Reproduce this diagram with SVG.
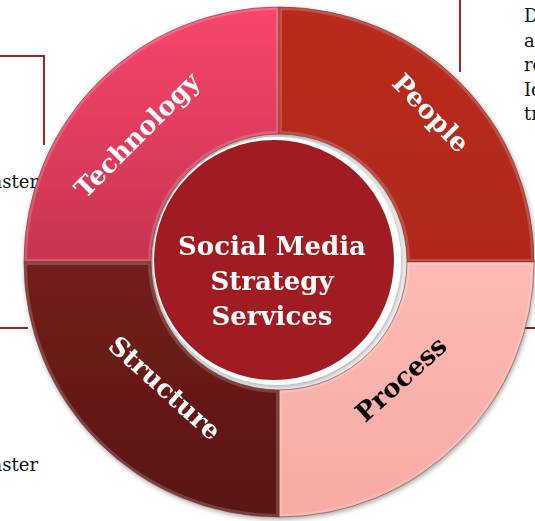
<svg xmlns="http://www.w3.org/2000/svg" width="535" height="521" viewBox="0 0 535 521">
<style>
.lbl{font-family:"DejaVu Serif","Liberation Serif",serif;font-weight:bold;font-size:26px;text-anchor:middle;dominant-baseline:central}
.ctr{font-family:"DejaVu Serif","Liberation Serif",serif;font-weight:bold;font-size:26px;fill:#ffffff;text-anchor:middle}
.side{font-family:"DejaVu Serif","Liberation Serif",serif;font-size:18px;fill:#111111}
.rule{stroke:#a51f24;stroke-width:2;fill:none}
.seg{stroke:#4a1010;stroke-width:1;stroke-opacity:0.5}
.bev{fill:none;stroke:#ffffff;stroke-opacity:0.18;stroke-width:6}
</style>
<defs>
<linearGradient id="gTech" x1="0" y1="7" x2="0" y2="262" gradientUnits="userSpaceOnUse">
<stop offset="0" stop-color="#f8466c"/><stop offset="1" stop-color="#c7344f"/>
</linearGradient>
<linearGradient id="gPeople" x1="0" y1="7" x2="0" y2="262" gradientUnits="userSpaceOnUse">
<stop offset="0" stop-color="#b92c1f"/><stop offset="1" stop-color="#b0281c"/>
</linearGradient>
<linearGradient id="gStruct" x1="0" y1="262" x2="0" y2="517" gradientUnits="userSpaceOnUse">
<stop offset="0" stop-color="#741e1b"/><stop offset="1" stop-color="#5a1414"/>
</linearGradient>
<linearGradient id="gProc" x1="0" y1="262" x2="0" y2="517" gradientUnits="userSpaceOnUse">
<stop offset="0" stop-color="#fdbab4"/><stop offset="1" stop-color="#f8aaa4"/>
</linearGradient>
<filter id="sh" x="-10%" y="-10%" width="120%" height="120%">
<feGaussianBlur in="SourceAlpha" stdDeviation="2.5"/>
<feOffset dx="1" dy="2" result="b"/>
<feFlood flood-color="#000000" flood-opacity="0.35"/>
<feComposite in2="b" operator="in"/>
<feMerge><feMergeNode/><feMergeNode in="SourceGraphic"/></feMerge>
</filter>
<clipPath id="cT"><path d="M24,262 A255,255 0 0 1 279,7 L279,134 A128,128 0 0 0 151,262 Z"/></clipPath>
<clipPath id="cP"><path d="M279,7 A255,255 0 0 1 534,262 L407,262 A128,128 0 0 0 279,134 Z"/></clipPath>
<clipPath id="cR"><path d="M534,262 A255,255 0 0 1 279,517 L279,390 A128,128 0 0 0 407,262 Z"/></clipPath>
<clipPath id="cS"><path d="M279,517 A255,255 0 0 1 24,262 L151,262 A128,128 0 0 0 279,390 Z"/></clipPath>
</defs>
<rect width="535" height="521" fill="#ffffff"/>
<g id="side-notes">
<path class="rule" d="M0,56 H44 V145"/>
<path class="rule" d="M0,328 H28"/>
<path class="rule" d="M460,0 V72"/>
<path class="rule" d="M523,328 H535"/>
<text class="side" x="38" y="188" text-anchor="end">aster</text>
<text class="side" x="38" y="471" text-anchor="end">aster</text>
<text class="side" x="524" y="22">D</text>
<text class="side" x="524" y="47">a</text>
<text class="side" x="524" y="71">re</text>
<text class="side" x="524" y="96">Ic</text>
<text class="side" x="524" y="120">tr</text>
</g>
<g id="ring" filter="url(#sh)">
<g id="technology">
<path class="seg" fill="url(#gTech)" d="M24,262 A255,255 0 0 1 279,7 L279,134 A128,128 0 0 0 151,262 Z"/>
<path class="bev" clip-path="url(#cT)" d="M24,262 A255,255 0 0 1 279,7 L279,134 A128,128 0 0 0 151,262 Z"/>
<text class="lbl" fill="#ffffff" transform="translate(137,135) rotate(-45)">Technology</text>
</g>
<g id="people">
<path class="seg" fill="url(#gPeople)" d="M279,7 A255,255 0 0 1 534,262 L407,262 A128,128 0 0 0 279,134 Z"/>
<path class="bev" clip-path="url(#cP)" d="M279,7 A255,255 0 0 1 534,262 L407,262 A128,128 0 0 0 279,134 Z"/>
<text class="lbl" fill="#ffffff" transform="translate(431,113) rotate(46)">People</text>
</g>
<g id="process">
<path class="seg" fill="url(#gProc)" d="M534,262 A255,255 0 0 1 279,517 L279,390 A128,128 0 0 0 407,262 Z"/>
<path class="bev" clip-path="url(#cR)" stroke-opacity="0.5" d="M534,262 A255,255 0 0 1 279,517 L279,390 A128,128 0 0 0 407,262 Z"/>
<text class="lbl" fill="#000000" transform="translate(401,379) rotate(-42)">Process</text>
</g>
<g id="structure">
<path class="seg" fill="url(#gStruct)" d="M279,517 A255,255 0 0 1 24,262 L151,262 A128,128 0 0 0 279,390 Z"/>
<path class="bev" clip-path="url(#cS)" d="M279,517 A255,255 0 0 1 24,262 L151,262 A128,128 0 0 0 279,390 Z"/>
<text class="lbl" fill="#ffffff" transform="translate(165,388) rotate(42)">Structure</text>
</g>
</g>
<g id="center" filter="url(#sh)">
<circle cx="277" cy="261" r="124" fill="#ffffff"/>
<circle cx="274" cy="260" r="120" fill="#a11f20"/>
<text class="ctr" x="272" y="255">Social Media</text>
<text class="ctr" x="272" y="290">Strategy</text>
<text class="ctr" x="272" y="325">Services</text>
</g>
</svg>
